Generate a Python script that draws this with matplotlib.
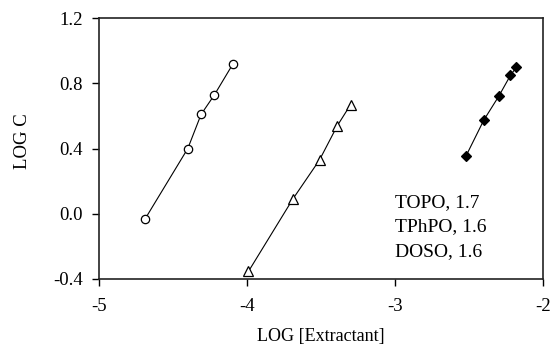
import matplotlib
matplotlib.use("Agg")
import matplotlib.pyplot as plt

plt.rcParams['font.family'] = ['Liberation Serif', 'DejaVu Serif']
plt.rcParams['axes.unicode_minus'] = False

# Data
topo_x = [-4.69, -4.40, -4.31, -4.22, -4.095]
topo_y = [-0.035, 0.40, 0.61, 0.73, 0.92]
tphpo_x = [-3.99, -3.69, -3.51, -3.39, -3.30]
tphpo_y = [-0.355, 0.09, 0.33, 0.54, 0.67]
doso_x = [-2.52, -2.40, -2.30, -2.22, -2.18]
doso_y = [0.355, 0.575, 0.72, 0.85, 0.90]

x_ticks = [-5, -4, -3, -2]
y_ticks = [-0.4, 0.0, 0.4, 0.8, 1.2]
y_ticklabels = ["-0.4", "0.0", "0.4", "0.8", "1.2"]
legend_lines = ["TOPO, 1.7", "TPhPO, 1.6", "DOSO, 1.6"]
legend_y = [0.065, -0.082, -0.236]

fig = plt.figure(figsize=(5.53, 3.54), dpi=100)
ax = fig.add_axes([0.179, 0.2127, 0.803, 0.7355])

lw = 0.8
ax.plot(topo_x, topo_y, color='black', lw=lw, marker='o', ms=6,
        mfc='white', mec='black', mew=0.9)
ax.plot(tphpo_x, tphpo_y, color='black', lw=lw, marker='^', ms=7.5,
        mfc='white', mec='black', mew=0.9)
ax.plot(doso_x, doso_y, color='black', lw=lw, marker='D', ms=5,
        mfc='black', mec='black', mew=0.9)

for txt, yy in zip(legend_lines, legend_y):
    ax.text(-3.0, yy, txt, fontsize=14, va='center', ha='left', color='black')

ax.set_xlim(-5, -2)
ax.set_ylim(-0.4, 1.2)
ax.set_xticks(x_ticks)
ax.set_xticklabels([str(t) for t in x_ticks])
ax.set_yticks(y_ticks)
ax.set_yticklabels(y_ticklabels)
ax.tick_params(direction='out', length=5, width=1, labelsize=13.5, colors='black')
ax.tick_params(axis='y', pad=6.5)
ax.tick_params(axis='x', pad=9)
for s in ax.spines.values():
    s.set_linewidth(1.2)
    s.set_color('#222222')

ax.set_xlabel("LOG [Extractant]", fontsize=13)
ax.set_ylabel("LOG C", fontsize=13.5)
ax.xaxis.set_label_coords(0.5, -0.19)
ax.yaxis.set_label_coords(-0.153, 0.53)

fig.savefig("out.png", dpi=100)
